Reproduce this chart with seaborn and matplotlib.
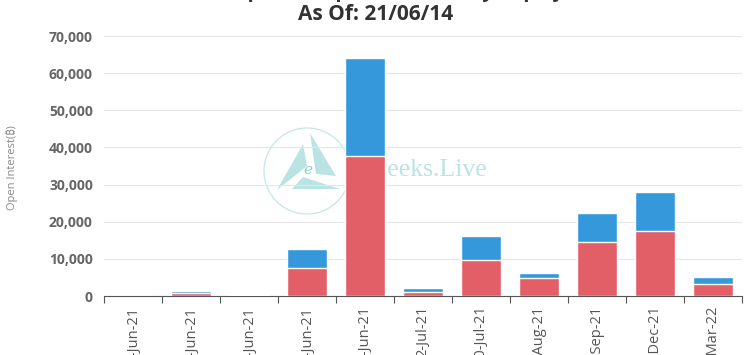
"""Open interest by expiry — stacked bars (seaborn)"""

import numpy as np
import pandas as pd
import matplotlib
matplotlib.use('Agg')
import matplotlib.pyplot as plt
from matplotlib.patches import Ellipse, Polygon
import seaborn as sns


# 到期日与两组持仓量
expiries = ['15-Jun-21', '16-Jun-21', '17-Jun-21', '18-Jun-21', '25-Jun-21',
            '2-Jul-21', '30-Jul-21', '27-Aug-21', '24-Sep-21', '31-Dec-21', '25-Mar-22']
red_oi = [40, 850, 250, 7450, 37600, 1200, 9620, 4770, 14530, 17630, 3210]
blue_oi = [20, 500, 150, 5200, 26570, 950, 6480, 1350, 7950, 10350, 1910]
y_ticks = [0, 10000, 20000, 30000, 40000, 50000, 60000, 70000]

RED = '#e35f68'
BLUE = '#3498db'
W, H = 752, 355
FONTS = ['Open Sans', 'Noto Sans', 'DejaVu Sans', 'Liberation Sans', 'Roboto',
         'Lato', 'Inter', 'Noto Sans CJK SC']

sns.set_theme(style='white')
plt.rcParams['font.family'] = FONTS

df = pd.DataFrame({'expiry': expiries, 'red': red_oi, 'blue': blue_oi})
df['total'] = df['red'] + df['blue']

fig = plt.figure(figsize=(W / 100, H / 100), dpi=100)
ax = fig.add_axes([104 / W, 1 - 296 / H, 638 / W, 260 / H])
ax.patch.set_alpha(0)


def px(x, y):
    return (x / W, 1 - y / H)


# 水印 Greeks.Live
wm = '#a9dedb'
fig.add_artist(Ellipse(px(307, 171), 86 / W, 86 / H, transform=fig.transFigure, fill=False,
                       ec=wm, lw=0.9, alpha=0.7, zorder=-2))
for tri in ([(303, 144), (277, 190), (307, 166)],
            [(310, 133), (336, 176), (316, 174)],
            [(303, 177), (292, 189), (340, 189)]):
    fig.add_artist(Polygon([px(*p) for p in tri], closed=True, transform=fig.transFigure,
                           fc=wm, ec='none', alpha=0.8, zorder=-2))
fig.text(*px(308, 170), 'e', family='DejaVu Serif', style='italic', fontsize=11,
         color='#8fcfcb', ha='center', va='center', zorder=-1)
fig.text(*px(360, 176), 'Greeks.Live', family='Liberation Serif', fontsize=18.5,
         color=wm, alpha=0.8, ha='left', va='baseline', zorder=-1)

# 堆叠柱：先画总量（蓝），再画底部（红）
sns.barplot(data=df, x='expiry', y='total', color=BLUE, width=0.68,
            saturation=1, ax=ax, zorder=3)
sns.barplot(data=df, x='expiry', y='red', color=RED, width=0.68,
            saturation=1, ax=ax, zorder=4)

ax.set_xlim(-0.5, len(expiries) - 0.5)
ax.set_ylim(0, 70000)
ax.set_yticks(y_ticks)
ax.set_yticklabels([f'{v:,}' for v in y_ticks], fontsize=10, fontweight='bold', color='#666666')
ax.yaxis.grid(True, color='#e6e6e6', lw=0.8, zorder=0)
ax.set_axisbelow(True)
ax.tick_params(axis='y', length=0, pad=8)

ax.set_xticks(range(len(expiries)))
ax.set_xticklabels(expiries, rotation=90, fontsize=10.5, color='#555555')
ax.set_xticks(np.arange(-0.5, len(expiries)), minor=True)
ax.tick_params(axis='x', which='major', length=0, pad=7)
ax.tick_params(axis='x', which='minor', length=5, color='#555555', width=0.8, bottom=True)

for s in ['top', 'right', 'left']:
    ax.spines[s].set_visible(False)
ax.spines['bottom'].set_color('#555555')
ax.spines['bottom'].set_linewidth(0.8)

ax.set_xlabel('')
ax.set_ylabel('Open Interest(₿)', fontsize=8, color='#888888')
ax.yaxis.set_label_coords((18 - 104) / 638, (296 - 168) / 260)

fig.text(0.5, 1 + 8 / H, 'BTC Options Open Interest By Expiry', ha='center', va='center',
         fontsize=15, fontweight='bold', color='#333333')
fig.text(0.5, 1 - 14 / H, 'As Of: 21/06/14', ha='center', va='center',
         fontsize=15, fontweight='bold', color='#333333')

fig.savefig('out.png', dpi=100)
